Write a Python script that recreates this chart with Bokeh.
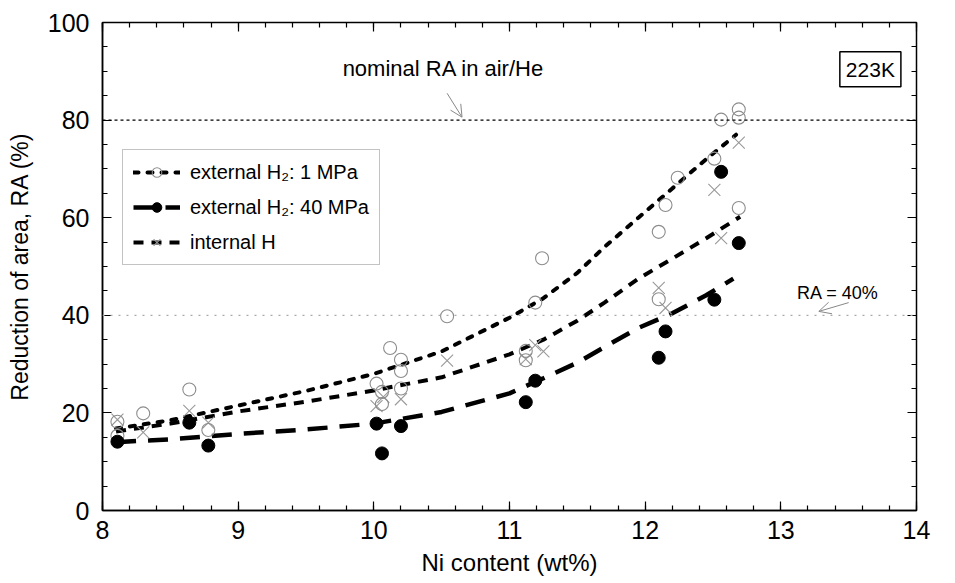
from bokeh.plotting import figure
from bokeh.models import (Range1d, LinearAxis, Label, Arrow, OpenHead, Legend,
                          LegendItem, Span, FixedTicker)
from bokeh.embed import file_html
from bokeh.resources import INLINE

# ---- data ----
ni_1mpa = [8.11, 8.11, 8.30, 8.64, 8.78, 10.02, 10.06, 10.06, 10.12, 10.20, 10.20,
           10.20, 10.54, 11.12, 11.12, 11.19, 11.24, 12.10, 12.10, 12.15, 12.24,
           12.51, 12.56, 12.69, 12.69, 12.69]
ra_1mpa = [18.2, 15.3, 19.9, 24.8, 16.5, 26.0, 24.3, 21.8, 33.3, 30.9, 28.6,
           25.0, 39.8, 32.7, 30.8, 42.6, 51.7, 57.1, 43.3, 62.6, 68.2,
           72.1, 80.1, 82.2, 80.5, 62.0]

ni_40mpa = [8.11, 8.64, 8.78, 10.02, 10.06, 10.20, 11.12, 11.19, 12.10, 12.15,
            12.51, 12.56, 12.69]
ra_40mpa = [14.1, 18.0, 13.3, 17.8, 11.7, 17.3, 22.2, 26.6, 31.3, 36.7,
            43.2, 69.4, 54.8]

ni_int = [8.11, 8.30, 8.64, 8.78, 10.02, 10.07, 10.20, 10.54, 11.12, 11.19,
          11.25, 12.10, 12.15, 12.51, 12.56, 12.69]
ra_int = [18.6, 16.0, 20.4, 18.0, 21.4, 23.3, 22.8, 30.7, 31.0, 33.9,
          32.6, 45.6, 41.5, 65.7, 55.8, 75.4]

fit_x_1mpa = [8.1, 8.5, 9.0, 9.5, 10.0, 10.5, 11.0, 11.25, 11.5, 11.7, 11.95, 12.2, 12.45, 12.67]
fit_y_1mpa = [16.8, 18.5, 21.5, 24.5, 28.0, 32.6, 39.5, 43.5, 48.7, 54.0, 60.0, 66.0, 72.0, 77.0]

fit_x_40mpa = [8.1, 8.5, 9.0, 9.5, 10.0, 10.5, 11.0, 11.25, 11.5, 11.7, 11.95, 12.2, 12.45, 12.65]
fit_y_40mpa = [14.0, 14.6, 15.7, 16.6, 17.8, 20.2, 24.0, 27.1, 30.3, 33.5, 37.4, 40.4, 44.1, 47.5]

fit_x_int = [8.1, 8.5, 9.0, 9.5, 10.0, 10.5, 11.0, 11.25, 11.5, 11.7, 11.95, 12.2, 12.45, 12.7]
fit_y_int = [16.2, 17.8, 20.3, 22.3, 24.6, 27.3, 32.0, 35.0, 38.9, 42.6, 47.5, 51.6, 55.8, 60.2]

x_ticks = [8, 9, 10, 11, 12, 13, 14]
y_ticks = [0, 20, 40, 60, 80, 100]
nominal_ra = 80
ra_limit = 40

FONT = "Liberation Sans"

p = figure(frame_width=814, frame_height=488,
           x_range=Range1d(8, 14), y_range=Range1d(0, 100),
           output_backend="svg", toolbar_location=None,
           min_border_left=102, min_border_right=20,
           min_border_top=22, min_border_bottom=65)
p.xgrid.visible = False
p.ygrid.visible = False
p.outline_line_color = "black"
p.outline_line_width = 1.5

x_minor = [8 + 0.2 * i for i in range(31)]
y_minor = [5 * i for i in range(21)]

def style_axis(ax):
    ax.axis_line_width = 1.5
    ax.axis_line_color = "black"
    ax.major_tick_in = 9
    ax.major_tick_out = 0
    ax.minor_tick_in = 5
    ax.minor_tick_out = 0
    ax.major_tick_line_width = 1.2
    ax.minor_tick_line_width = 1.2
    ax.major_label_text_font = FONT
    ax.major_label_text_color = "black"
    ax.major_label_text_font_size = "25px"
    ax.axis_label_text_font = FONT
    ax.axis_label_text_font_style = "normal"
    ax.axis_label_text_color = "black"

p.xaxis.ticker = FixedTicker(ticks=x_ticks, minor_ticks=x_minor)
p.yaxis.ticker = FixedTicker(ticks=y_ticks, minor_ticks=y_minor)
p.xaxis.axis_label = "Ni content (wt%)"
p.yaxis.axis_label = "Reduction of area, RA (%)"
style_axis(p.xaxis[0])
style_axis(p.yaxis[0])
p.xaxis.axis_label_text_font_size = "24px"
p.yaxis.axis_label_text_font_size = "23px"
p.xaxis.major_label_standoff = 10
p.yaxis.major_label_standoff = 13
p.xaxis.axis_label_standoff = 7
p.yaxis.axis_label_standoff = 12

# mirrored tick marks on top and right (no labels)
def tick_axis(positions, length):
    ax = LinearAxis(ticker=FixedTicker(ticks=[], minor_ticks=positions))
    ax.axis_line_color = None
    ax.minor_tick_in = length
    ax.minor_tick_out = 0
    ax.minor_tick_line_width = 1.2
    ax.major_label_standoff = 0
    ax.axis_label_standoff = 0
    return ax

p.add_layout(tick_axis(x_ticks, 9), "above")
p.add_layout(tick_axis(x_minor, 5), "above")
p.add_layout(tick_axis(y_ticks, 9), "right")
p.add_layout(tick_axis(y_minor, 5), "right")

# reference lines
p.add_layout(Span(location=nominal_ra, dimension="width", line_color="black",
                  line_width=1.2, line_dash="3 3"))
p.add_layout(Span(location=ra_limit, dimension="width", line_color="#aaaaaa",
                  line_width=1.2, line_dash="2 6"))

# fitted curves
l1 = p.line(fit_x_1mpa, fit_y_1mpa, line_color="black", line_width=4,
            line_dash="5 9", line_cap="round")
l2 = p.line(fit_x_40mpa, fit_y_40mpa, line_color="black", line_width=4.5,
            line_dash="20 12")
l3 = p.line(fit_x_int, fit_y_int, line_color="black", line_width=4,
            line_dash="10 8")

# data points
s3 = p.scatter(ni_int, ra_int, marker="x", size=17, line_color="#999999",
               line_width=1.1)
s1 = p.scatter(ni_1mpa, ra_1mpa, marker="circle", size=13, fill_color=None,
               line_color="#8c8c8c", line_width=1.1)
s2 = p.scatter(ni_40mpa, ra_40mpa, marker="circle", size=13, fill_color="black",
               line_color="black")

legend = Legend(items=[
    LegendItem(label="external H\u2082: 1 MPa", renderers=[l1, s1]),
    LegendItem(label="external H\u2082: 40 MPa", renderers=[l2, s2]),
    LegendItem(label="internal H", renderers=[l3, s3]),
], location=(20, 245))
legend.label_text_font = FONT
legend.label_text_font_size = "20px"
legend.label_text_color = "black"
legend.glyph_width = 47
legend.glyph_height = 24
legend.label_standoff = 10
legend.spacing = 11
legend.padding = 10
legend.border_line_color = "#888888"
legend.border_line_width = 1
legend.background_fill_color = "white"
legend.background_fill_alpha = 1
p.add_layout(legend)

# annotations
p.add_layout(Label(x=9.77, y=90.6, text="nominal RA in air/He",
                   text_font=FONT, text_font_size="22px", text_baseline="middle",
                   text_color="black"))
p.add_layout(Arrow(end=OpenHead(size=12, line_color="#888888", line_width=1),
                   x_start=10.54, y_start=85.5, x_end=10.65, y_end=80.6,
                   line_color="#888888", line_width=1))
p.add_layout(Label(x=13.66, y=90.4, text="223K", text_font=FONT,
                   text_font_size="21px", text_align="center",
                   text_baseline="middle", text_color="black",
                   border_line_color="black", border_line_width=1.5,
                   background_fill_color="white", padding=6))
p.add_layout(Label(x=13.12, y=44.5, text="RA = 40%", text_font=FONT,
                   text_font_size="18px", text_baseline="middle",
                   text_color="black"))
p.add_layout(Arrow(end=OpenHead(size=12, line_color="#888888", line_width=1),
                   x_start=13.5, y_start=42.6, x_end=13.28, y_end=40.8,
                   line_color="#888888", line_width=1))

open("out.html", "w").write(file_html(p, INLINE))
